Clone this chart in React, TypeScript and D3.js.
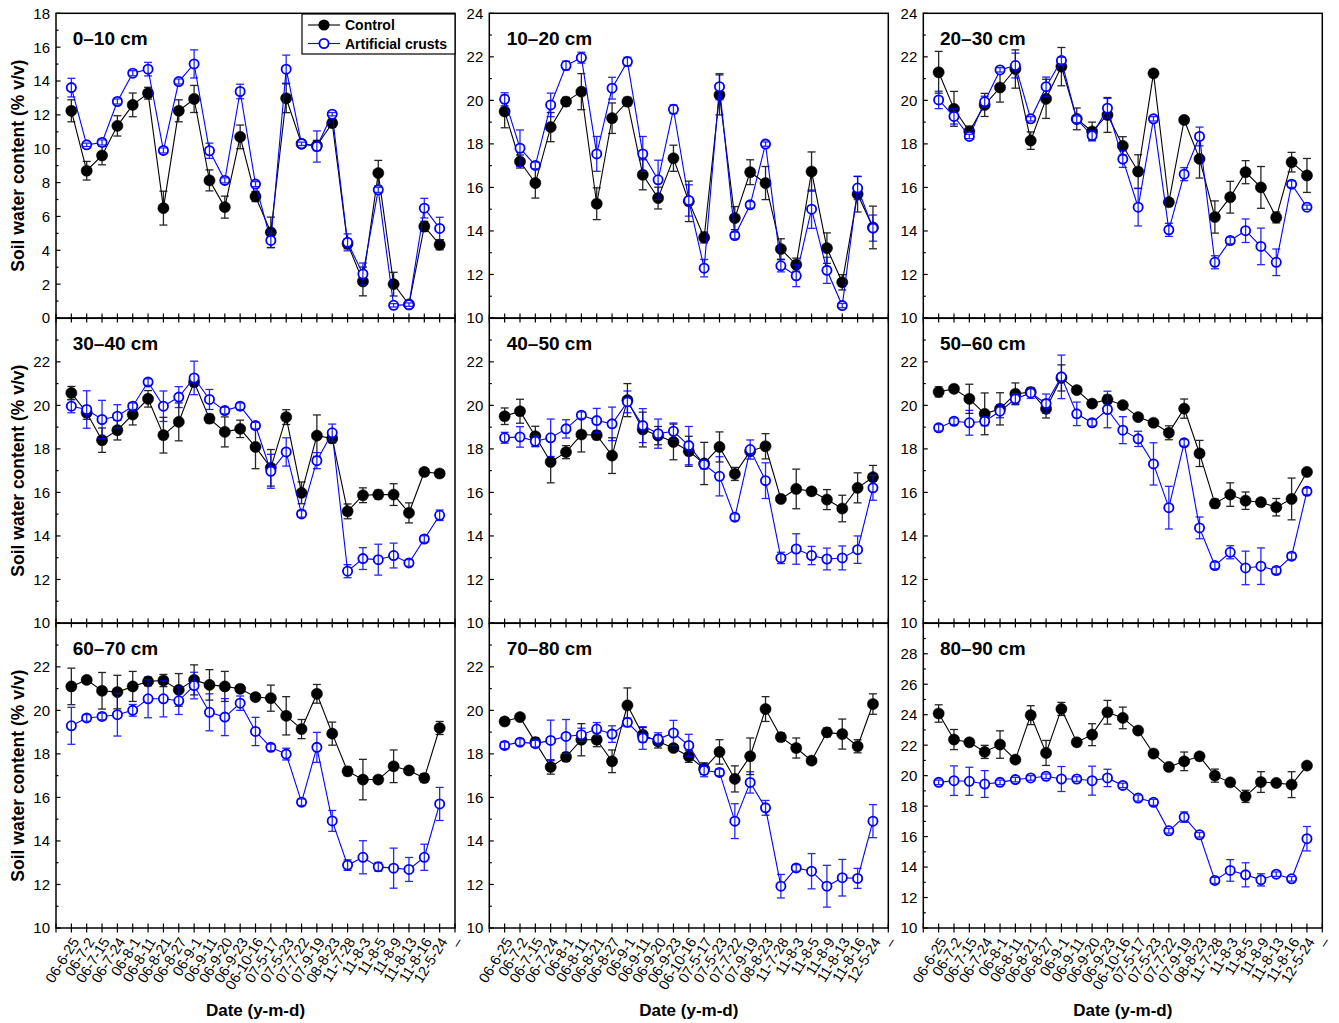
import React from 'react';
import * as d3 from 'd3';

// ---------------- DATA ----------------
const dates = ["06-6-25","06-7-2","06-7-15","06-7-24","06-8-1","06-8-11","06-8-21","06-8-27","06-9-1","06-9-11","06-9-20","06-9-23","06-10-16","07-5-17","07-5-23","07-7-22","07-9-19","08-8-23","11-7-28","11-8-3","11-8-5","11-8-9","11-8-13","11-8-16","12-5-24"];
const trailingTickLabel = "–";
const seriesNames = ["Control", "Artificial crusts"];
const depthLabels = ["0–10 cm","10–20 cm","20–30 cm","30–40 cm","40–50 cm","50–60 cm","60–70 cm","70–80 cm","80–90 cm"];
const yDomains = [[0,18],[10,24],[10,24],[10,24],[10,24],[10,24],[10,24],[10,24],[10,30]];

// 0–10 cm
const ctrl_0_10 = [12.24,8.70,9.60,11.35,12.59,13.28,6.49,12.24,12.94,8.13,6.55,10.70,7.18,5.06,12.98,10.29,10.19,11.51,4.39,2.16,8.56,2.00,0.80,5.41,4.33];
const ctrlErr_0_10 = [0.65,0.55,0.55,0.6,0.7,0.35,1.0,0.65,0.8,0.62,0.65,0.7,0.3,0.9,0.85,0.2,0.3,0.25,0.3,0.85,0.75,0.7,0.1,0.3,0.3];
const crust_0_10 = [13.61,10.23,10.37,12.79,14.46,14.70,9.90,13.97,15.01,9.88,8.13,13.38,7.91,4.58,14.70,10.29,10.13,12.04,4.47,2.60,7.57,0.75,0.79,6.49,5.29];
const crustErr_0_10 = [0.55,0.1,0.15,0.15,0.15,0.4,0.15,0.15,0.83,0.45,0.15,0.43,0.15,0.42,0.83,0.1,0.92,0.1,0.5,0.65,0.15,0.1,0.1,0.58,0.66];
// 10–20 cm
const ctrl_10_20 = [19.49,17.19,16.20,18.77,19.94,20.40,15.25,19.18,19.94,16.58,15.51,17.34,15.36,13.70,20.25,14.59,16.70,16.20,13.17,12.45,16.73,13.21,11.64,15.69,14.16];
const ctrlErr_10_20 = [0.75,0.3,0.69,0.67,0.2,0.83,0.73,0.7,0.2,0.69,0.5,0.6,0.93,0.25,0.92,0.53,0.57,0.76,0.47,0.3,0.9,0.7,0.35,0.82,0.98];
const crust_10_20 = [20.05,17.80,17.01,19.79,21.60,21.96,17.54,20.56,21.78,17.54,16.35,19.59,15.40,12.29,20.63,13.79,15.20,17.99,12.40,11.94,15.00,12.19,10.57,15.97,14.13];
const crustErr_10_20 = [0.3,0.84,0.15,0.54,0.2,0.25,0.8,0.5,0.2,0.8,0.9,0.2,0.72,0.4,0.6,0.15,0.15,0.1,0.28,0.5,0.88,0.6,0.1,0.53,0.6];
// 20–30 cm
const ctrl_20_30 = [21.29,19.61,18.57,19.79,20.59,21.44,18.15,20.07,21.55,19.15,18.57,19.33,17.91,16.73,21.24,15.32,19.10,17.31,14.64,15.55,16.70,16.00,14.62,17.16,16.55];
const ctrlErr_20_30 = [0.96,0.8,0.25,0.53,0.67,0.88,0.4,0.9,0.88,0.5,0.43,0.8,0.42,0.77,0.15,0.15,0.15,0.88,0.74,0.73,0.53,0.96,0.25,0.45,0.78];
const crust_20_30 = [20.02,19.26,18.34,19.94,21.40,21.60,19.15,20.63,21.83,19.13,18.38,19.64,17.30,15.09,19.15,14.05,16.61,18.34,12.56,13.56,14.01,13.29,12.56,16.15,15.09];
const crustErr_20_30 = [0.4,0.35,0.1,0.25,0.1,0.57,0.1,0.44,0.15,0.15,0.2,0.45,0.38,0.86,0.1,0.3,0.3,0.43,0.3,0.15,0.54,0.84,0.61,0.15,0.1];
// 30–40 cm
const ctrl_30_40 = [20.57,19.66,18.40,18.86,19.58,20.30,18.63,19.24,21.07,19.39,18.78,18.92,18.09,17.13,19.46,15.98,18.61,18.48,15.13,15.87,15.90,15.90,15.06,16.94,16.87];
const ctrlErr_30_40 = [0.3,0.3,0.56,0.45,0.48,0.38,0.82,0.87,0.2,0.2,0.69,0.4,1.0,0.84,0.34,0.5,0.95,0.2,0.34,0.34,0.2,0.5,0.46,0.15,0.15];
const crust_30_40 = [19.96,19.81,19.35,19.50,19.96,21.07,19.96,20.38,21.26,20.27,19.76,19.96,19.07,16.97,17.86,15.01,17.46,18.74,12.38,12.96,12.91,13.10,12.76,13.86,14.95];
const crustErr_30_40 = [0.3,0.86,0.88,0.53,0.15,0.15,0.7,0.48,0.77,0.46,0.15,0.15,0.15,0.78,0.65,0.15,0.37,0.4,0.3,0.5,0.71,0.57,0.15,0.15,0.24];
// 40–50 cm
const ctrl_40_50 = [19.50,19.73,18.58,17.40,17.85,18.66,18.63,17.69,20.24,18.89,18.61,18.32,17.89,17.33,18.09,16.85,17.89,18.12,15.70,16.16,16.05,15.67,15.26,16.21,16.70];
const ctrlErr_40_50 = [0.38,0.55,0.46,0.96,0.3,0.8,0.2,0.82,0.76,0.8,0.42,0.82,0.69,0.97,0.69,0.3,0.15,0.58,0.15,0.91,0.15,0.46,0.61,0.69,0.54];
const crust_40_50 = [18.51,18.55,18.35,18.51,18.92,19.55,19.30,19.15,20.16,19.07,18.70,18.81,18.15,17.28,16.74,14.86,17.97,16.54,12.99,13.40,13.10,12.94,12.99,13.37,16.21];
const crustErr_40_50 = [0.25,0.47,0.25,0.86,0.42,0.15,0.56,0.77,0.5,0.78,0.67,0.38,0.88,0.2,0.9,0.15,0.44,0.82,0.26,0.7,0.42,0.5,0.55,0.63,0.57];
// 50–60 cm
const ctrl_50_60 = [20.62,20.76,20.30,19.61,19.84,20.53,20.61,19.84,21.26,20.70,20.08,20.27,20.01,19.46,19.20,18.74,19.85,17.79,15.49,15.90,15.62,15.55,15.32,15.70,16.94];
const ctrlErr_50_60 = [0.23,0.15,0.67,0.96,0.74,0.5,0.15,0.42,0.6,0.15,0.15,0.2,0.15,0.15,0.15,0.32,0.44,0.6,0.2,0.54,0.4,0.15,0.4,0.96,0.15];
const crust_50_60 = [18.97,19.27,19.20,19.27,19.73,20.30,20.57,20.08,21.31,19.61,19.20,19.81,18.86,18.46,17.31,15.30,18.28,14.37,12.64,13.25,12.53,12.61,12.41,13.07,16.05];
const crustErr_50_60 = [0.15,0.15,0.57,0.2,0.3,0.23,0.25,0.44,1.0,0.54,0.15,0.84,0.62,0.35,0.97,0.98,0.15,0.5,0.15,0.3,0.77,0.84,0.15,0.15,0.15];
// 60–70 cm
const ctrl_60_70 = [21.10,21.40,20.90,20.84,21.10,21.33,21.37,20.94,21.40,21.17,21.10,20.99,20.61,20.56,19.75,19.14,20.76,18.93,17.20,16.82,16.82,17.43,17.24,16.89,19.19];
const ctrlErr_60_70 = [0.84,0.15,0.84,0.77,0.69,0.2,0.28,0.75,0.69,0.7,0.69,0.15,0.15,0.6,0.88,0.44,0.43,0.53,0.2,0.93,0.15,0.75,0.15,0.2,0.3];
const crust_60_70 = [19.29,19.65,19.72,19.80,20.00,20.53,20.53,20.44,21.14,19.91,19.69,20.33,19.03,18.30,17.99,15.78,18.30,14.92,12.89,13.25,12.81,12.75,12.69,13.25,15.70];
const crustErr_60_70 = [0.85,0.15,0.15,0.98,0.27,0.87,0.83,0.63,0.61,0.85,0.85,0.33,0.65,0.15,0.27,0.15,0.69,0.48,0.24,0.76,0.2,0.92,0.55,0.6,0.76];
// 70–80 cm
const ctrl_70_80 = [19.49,19.69,18.54,17.40,17.86,18.65,18.65,17.66,20.23,18.88,18.57,18.27,17.89,17.32,18.09,16.85,17.89,20.06,18.77,18.27,17.69,18.99,18.91,18.35,20.29];
const ctrlErr_70_80 = [0.15,0.15,0.2,0.33,0.2,0.74,0.32,0.52,0.8,0.33,0.3,0.15,0.28,0.27,0.56,0.6,0.84,0.57,0.2,0.46,0.15,0.2,0.69,0.3,0.47];
const crust_70_80 = [18.39,18.54,18.47,18.62,18.80,18.88,19.14,18.91,19.45,18.73,18.68,18.96,18.39,17.24,17.15,14.91,16.69,15.52,11.92,12.76,12.61,11.92,12.31,12.28,14.91];
const crustErr_70_80 = [0.15,0.15,0.15,0.93,0.78,0.3,0.3,0.38,0.2,0.52,0.29,0.58,0.51,0.29,0.15,0.8,0.49,0.34,0.54,0.15,0.81,0.96,0.84,0.46,0.76];
// 80–90 cm
const ctrl_80_90 = [24.08,22.37,22.19,21.56,22.04,21.05,23.97,21.49,24.38,22.19,22.69,24.16,23.79,22.96,21.45,20.57,20.94,21.27,20.00,19.56,18.64,19.58,19.52,19.41,20.66];
const ctrlErr_80_90 = [0.57,0.66,0.2,0.43,0.9,0.2,0.62,0.82,0.43,0.2,0.72,0.78,0.71,0.2,0.2,0.2,0.61,0.2,0.43,0.2,0.4,0.68,0.2,0.85,0.15];
const crust_80_90 = [19.56,19.67,19.63,19.45,19.56,19.74,19.85,19.96,19.78,19.78,19.67,19.85,19.36,18.53,18.25,16.38,17.28,16.12,13.12,13.78,13.49,13.16,13.53,13.23,15.86];
const crustErr_80_90 = [0.15,0.97,0.92,0.88,0.15,0.15,0.15,0.15,0.82,0.15,0.95,0.57,0.15,0.2,0.2,0.15,0.34,0.15,0.2,0.71,0.79,0.4,0.15,0.15,0.8];

const panels = [
  { label: depthLabels[0], domain: yDomains[0], ctrl: ctrl_0_10, ctrlErr: ctrlErr_0_10, crust: crust_0_10, crustErr: crustErr_0_10 },
  { label: depthLabels[1], domain: yDomains[1], ctrl: ctrl_10_20, ctrlErr: ctrlErr_10_20, crust: crust_10_20, crustErr: crustErr_10_20 },
  { label: depthLabels[2], domain: yDomains[2], ctrl: ctrl_20_30, ctrlErr: ctrlErr_20_30, crust: crust_20_30, crustErr: crustErr_20_30 },
  { label: depthLabels[3], domain: yDomains[3], ctrl: ctrl_30_40, ctrlErr: ctrlErr_30_40, crust: crust_30_40, crustErr: crustErr_30_40 },
  { label: depthLabels[4], domain: yDomains[4], ctrl: ctrl_40_50, ctrlErr: ctrlErr_40_50, crust: crust_40_50, crustErr: crustErr_40_50 },
  { label: depthLabels[5], domain: yDomains[5], ctrl: ctrl_50_60, ctrlErr: ctrlErr_50_60, crust: crust_50_60, crustErr: crustErr_50_60 },
  { label: depthLabels[6], domain: yDomains[6], ctrl: ctrl_60_70, ctrlErr: ctrlErr_60_70, crust: crust_60_70, crustErr: crustErr_60_70 },
  { label: depthLabels[7], domain: yDomains[7], ctrl: ctrl_70_80, ctrlErr: ctrlErr_70_80, crust: crust_70_80, crustErr: crustErr_70_80 },
  { label: depthLabels[8], domain: yDomains[8], ctrl: ctrl_80_90, ctrlErr: ctrlErr_80_90, crust: crust_80_90, crustErr: crustErr_80_90 },
];

// ---------------- LAYOUT ----------------
const FONT = "'Liberation Sans', Arial, Helvetica, sans-serif";
const COL_LEFT = [56, 489.3, 923.3];
const ROW_TOP = [13.3, 318.3, 623.3];
const PW = 399;
const PH = 304.7;
const BLUE = "#0000ff";

function Series({ vals, errs, x, y, color, filled }: any) {
  const line = d3.line<number>().x((_, i) => x(i)).y((d) => y(d));
  const cap = 4;
  return (
    <g>
      <path d={line(vals) || ""} fill="none" stroke={color} strokeWidth={1.1} />
      {vals.map((v: number, i: number) => (
        <circle key={"m" + i} cx={x(i)} cy={y(v)} r={filled ? 5.6 : 4.6}
          fill={filled ? color : "#fff"} stroke={color} strokeWidth={filled ? 0.5 : 1.8} />
      ))}
      {vals.map((v: number, i: number) => {
        const e = errs[i];
        const cx = x(i);
        const y1 = y(v + e), y0 = y(v - e);
        return (
          <g key={"e" + i} stroke={color} strokeWidth={1.3} opacity={0.85}>
            <line x1={cx} x2={cx} y1={y1} y2={y0} />
            <line x1={cx - cap} x2={cx + cap} y1={y1} y2={y1} />
            <line x1={cx - cap} x2={cx + cap} y1={y0} y2={y0} />
          </g>
        );
      })}
    </g>
  );
}

function Panel({ p, idx }: any) {
  const row = Math.floor(idx / 3), col = idx % 3;
  const left = COL_LEFT[col], top = ROW_TOP[row];
  const x = d3.scaleLinear().domain([-1, 25]).range([0, PW]);
  const y = d3.scaleLinear().domain(p.domain).range([PH, 0]);
  const [lo, hi] = p.domain;
  const minor = d3.range(lo, hi + 0.001, 1);
  const major = d3.range(lo, hi + 0.001, 2);
  const xt = d3.range(-1, 26, 1);
  return (
    <g transform={`translate(${left},${top})`} fontFamily={FONT}>
      <rect x={0} y={0} width={PW} height={PH} fill="none" stroke="#000" strokeWidth={1.5} />
      {minor.map((t) => (
        <line key={"mn" + t} x1={0} x2={t % 2 === 0 ? 4.5 : 2.5} y1={y(t)} y2={y(t)} stroke="#000" strokeWidth={1.2} />
      ))}
      {major.filter((t) => row === 0 || t !== hi).map((t) => (
        <text key={"yl" + t} x={-6} y={y(t)} dy="0.36em" textAnchor="end" fontSize={15} fill="#000">{t}</text>
      ))}
      {xt.map((t) => (
        <line key={"xt" + t} x1={x(t)} x2={x(t)} y1={PH - 4.5} y2={PH + 4.5} stroke="#000" strokeWidth={1.2} />
      ))}
      {row === 2 && [...dates, trailingTickLabel].map((d, i) => (
        <text key={"xl" + i} transform={`translate(${x(i) + 4},${PH + 11}) rotate(-58)`} dy="0.35em"
          textAnchor="end" fontSize={14.5} fill="#000">{d}</text>
      ))}
      <Series vals={p.ctrl} errs={p.ctrlErr} x={x} y={y} color="#000" filled={true} />
      <Series vals={p.crust} errs={p.crustErr} x={x} y={y} color={BLUE} filled={false} />
      <text x={col === 1 ? 17.4 : 16.7} y={31.7} fontSize={19} fontWeight="bold" fill="#000">{p.label}</text>
      {col === 0 && (
        <text transform={`translate(-32,${PH / 2}) rotate(-90)`} textAnchor="middle" fontSize={17.5} fontWeight="bold" fill="#000">
          Soil water content (% v/v)
        </text>
      )}
      {row === 2 && (
        <text x={PW / 2} y={PH + 88} textAnchor="middle" fontSize={17} fontWeight="bold" fill="#000">Date (y-m-d)</text>
      )}
      {idx === 0 && (
        <g>
          <rect x={246} y={0.7} width={153} height={40} fill="#fff" stroke="#000" strokeWidth={1.2} />
          <line x1={252} x2={284} y1={11.7} y2={11.7} stroke="#000" strokeWidth={1.1} />
          <circle cx={268} cy={11.7} r={5.6} fill="#000" />
          <text x={289} y={11.7} dy="0.36em" fontSize={14} fontWeight="bold">{seriesNames[0]}</text>
          <line x1={252} x2={284} y1={30.2} y2={30.2} stroke={BLUE} strokeWidth={1.1} />
          <circle cx={268} cy={30.2} r={4.6} fill="#fff" stroke={BLUE} strokeWidth={1.8} />
          <text x={289} y={30.2} dy="0.36em" fontSize={14} fontWeight="bold">{seriesNames[1]}</text>
        </g>
      )}
    </g>
  );
}

export default function App() {
  return (
    <div style={{ position: "absolute", left: 0, top: 0 }}>
      <svg width={1339} height={1023} style={{ display: "block", background: "#fff" }}>
        {panels.map((p, i) => <Panel key={i} p={p} idx={i} />)}
      </svg>
    </div>
  );
}
